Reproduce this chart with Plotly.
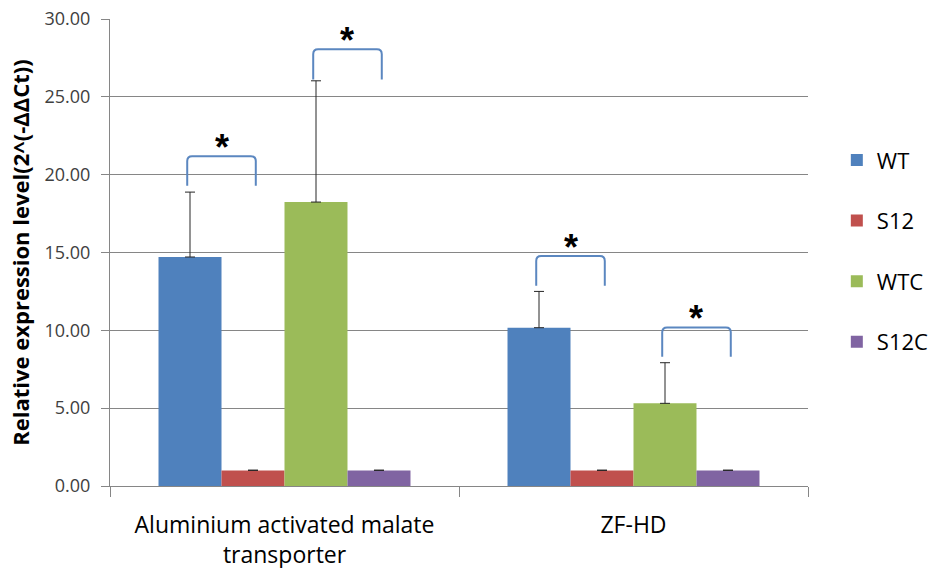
import plotly.graph_objects as go

# Genes on the x axis and the four sample groups
genes = ["Aluminium activated malate<br>transporter", "ZF-HD"]
series = ["WT", "S12", "WTC", "S12C"]
colors = ["#4F81BD", "#C0504D", "#9BBB59", "#8064A2"]

# Relative expression (2^-ddCt) and upper error bars per sample group
wt = [14.71, 10.17]
s12 = [1.00, 1.00]
wtc = [18.24, 5.31]
s12c = [1.00, 1.00]
wt_err = [4.17, 2.33]
s12_err = [0.02, 0.02]
wtc_err = [7.79, 2.61]
s12c_err = [0.02, 0.02]

values = [wt, s12, wtc, s12c]
errors = [wt_err, s12_err, wtc_err, s12c_err]

# Significance brackets: (gene index, left series, right series, leg bottom, bracket top)
brackets = [
    (0, 0, 1, 19.29, 21.19),
    (0, 2, 3, 26.12, 28.05),
    (1, 0, 1, 12.86, 14.77),
    (1, 2, 3, 8.30, 10.19),
]

bargap = 0.278
font = "'Open Sans', sans-serif"

fig = go.Figure()
for i, name in enumerate(series):
    fig.add_trace(go.Bar(
        x=list(range(len(genes))), y=values[i], name=name,
        marker=dict(color=colors[i], line=dict(width=0)),
        error_y=dict(type="data", array=errors[i], arrayminus=[0] * len(genes),
                     symmetric=False, color="#262626", thickness=1, width=5),
        legendgroup=name,
    ))

# Bar centre offsets inside a category of width 1
n = len(series)
bw = (1 - bargap) / n


def bar_center(g, s):
    return g - (1 - bargap) / 2 + (s + 0.5) * bw


rx, ry = 0.014, 0.32
for g, a, b, yb, yt in brackets:
    x0 = bar_center(g, a) - 0.008
    x1 = bar_center(g, b) + 0.008
    path = (f"M {x0},{yb} L {x0},{yt - ry} Q {x0},{yt} {x0 + rx},{yt} "
            f"L {x1 - rx},{yt} Q {x1},{yt} {x1},{yt - ry} L {x1},{yb}")
    fig.add_shape(type="path", path=path, xref="x", yref="y",
                  line=dict(color="#5B87C0", width=2))
    fig.add_annotation(x=(x0 + x1) / 2, y=yt, text="<b>*</b>", showarrow=False,
                       xref="x", yref="y", yanchor="bottom", yshift=-14,
                       font=dict(size=36, color="#000000", family="Arial"))

fig.update_layout(
    width=935, height=568,
    margin=dict(l=110, r=127, t=19, b=82),
    paper_bgcolor="white", plot_bgcolor="white",
    barmode="group", bargap=bargap, bargroupgap=0,
    font=dict(family=font, color="#000000"),
    legend=dict(xref="container", yref="container", x=0.895, y=0.755,
                xanchor="left", yanchor="top",
                font=dict(size=22, family=font, color="#000000"),
                traceorder="grouped", tracegroupgap=29,
                itemwidth=30, bgcolor="rgba(0,0,0,0)"),
    showlegend=True,
)

fig.update_xaxes(
    range=[-0.5, 1.5], tickmode="array", tickvals=list(range(len(genes))),
    ticktext=genes, ticks="", showgrid=False, zeroline=False,
    showline=True, linecolor="#868686", linewidth=1, automargin=False,
    tickfont=dict(size=23, family=font, color="#000000"),
    ticklabelstandoff=18,
    minor=dict(tickmode="array", tickvals=[-0.5, 0.5, 1.5], ticks="outside",
               ticklen=10, tickcolor="#868686", tickwidth=1, showgrid=False),
)
fig.update_yaxes(
    range=[0, 30], dtick=5, tickformat=".2f", showgrid=True,
    gridcolor="#868686", gridwidth=1, zeroline=False,
    showline=True, linecolor="#868686", linewidth=1, automargin=False,
    ticks="outside", ticklen=8, tickcolor="#868686",
    ticklabelstandoff=7,
    tickfont=dict(size=18, family=font, color="#404040"),
    title=dict(text="<b>Relative expression level(2^(-ΔΔCt))</b>",
               font=dict(size=22, family=font, color="#000000"), standoff=8),
)

fig.write_html("out.html")
